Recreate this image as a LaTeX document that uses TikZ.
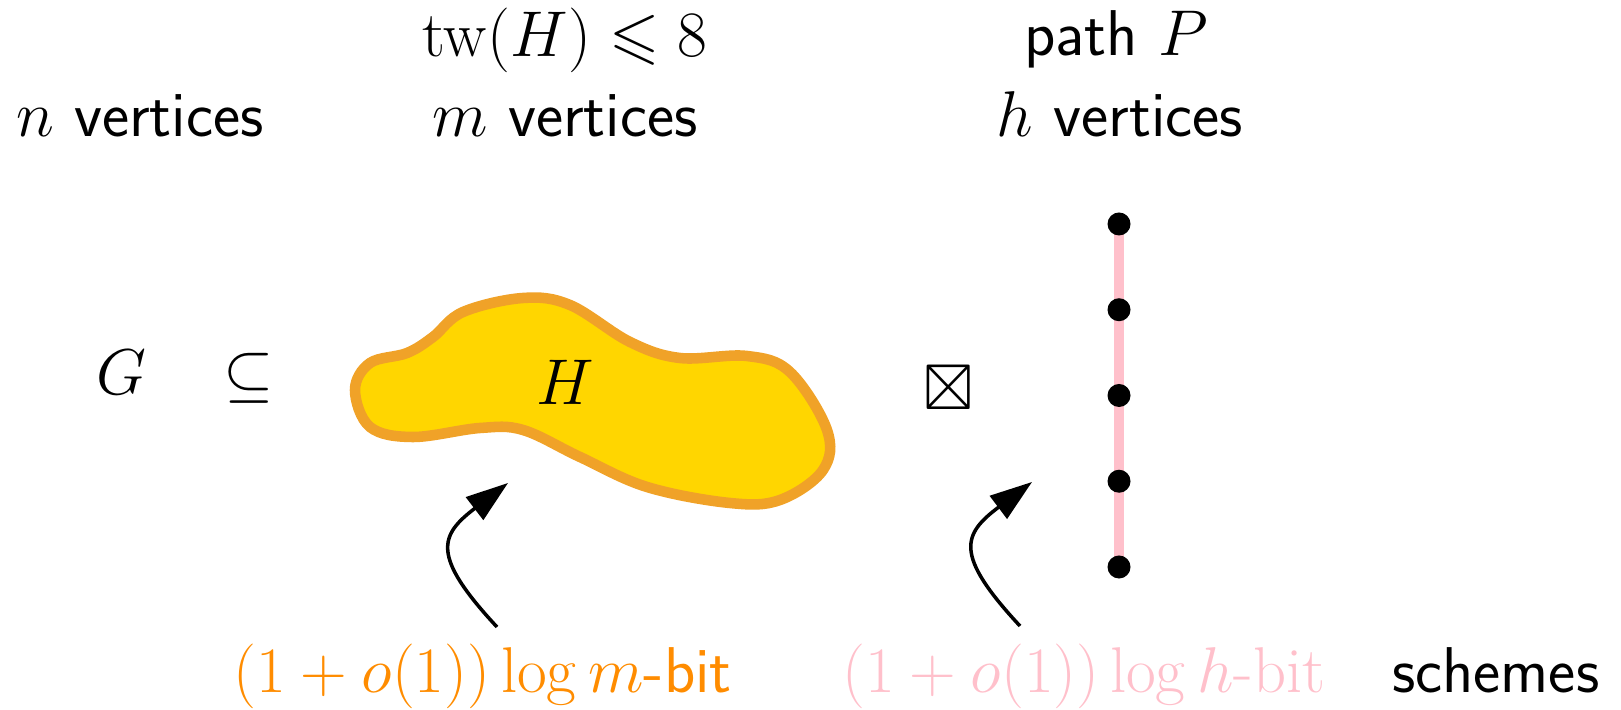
\RequirePackage{fix-cm}
\documentclass[tikz,border=0pt]{standalone}
\usepackage{amsmath,amssymb}
\usetikzlibrary{arrows.meta}
\definecolor{blobfill}{RGB}{255,214,0}
\definecolor{blobline}{RGB}{240,162,40}
\definecolor{myorange}{RGB}{255,140,0}
\definecolor{mypink}{RGB}{255,192,203}
\begin{document}
\begin{tikzpicture}[x=0.01cm,y=-0.01cm,
  lbl/.style={inner sep=0pt,anchor=base,font=\fontsize{18.4}{22}\selectfont\sffamily},
  dot/.style={circle,fill=black,inner sep=0pt,minimum size=0.23cm},
  curvearrow/.style={line width=1pt,-{Triangle[length=12pt,width=8pt]}}]
\useasboundingbox (0,0) rectangle (1621,710);
% top labels
\node[lbl] (nv) at (140,137) {$n$ vertices};
\node[lbl] (tw) at (565,57) {$\mathrm{tw}(H)\leqslant 8$};
\node[lbl] (mv) at (565,137) {$m$ vertices};
\node[lbl] (pp) at (1116,56) {path $P$};
\node[lbl] (hv) at (1120,137) {$h$ vertices};
% blob
\draw[line width=3pt,draw=blobline,fill=blobfill] plot[smooth cycle,tension=0.6] coordinates {
 (355,390) (370,363) (407,353) (433,337) (463,312) (523,298) (570,305)
 (630,342) (680,358) (747,356) (790,372) (827,430) (823,470) (780,500)
 (730,503) (647,487) (580,457) (523,430) (480,428) (413,437) (370,427)};
% middle row
\node[lbl] (G) at (121,395) {$G$};
\node[lbl] (sub) at (249,395) {$\subseteq$};
\node[lbl] (H) at (565,405) {$H$};
\node[lbl] (bt) at (949,410) {$\boxtimes$};
% path
\coordinate (c1) at (1119,224);
\coordinate (c2) at (1119,309.75);
\coordinate (c3) at (1119,395.5);
\coordinate (c4) at (1119,481.25);
\coordinate (c5) at (1119,567);
\draw[mypink,line width=2.8pt] (c1) -- (c5);
\node[dot] (p1) at (c1) {};
\node[dot] (p2) at (c2) {};
\node[dot] (p3) at (c3) {};
\node[dot] (p4) at (c4) {};
\node[dot] (p5) at (c5) {};
% arrows
\coordinate (a1s) at (497,627);
\coordinate (a1t) at (508,483);
\coordinate (a2s) at (1020,626);
\coordinate (a2t) at (1032,482);
\draw[curvearrow] (a1s) .. controls (430,555) and (440,535) .. (a1t);
\draw[curvearrow] (a2s) .. controls (953,554) and (963,534) .. (a2t);
% bottom labels
\node[lbl,anchor=base west,text=myorange] (ob) at (233,693) {$(1+o(1))\log m$-bit};
\node[lbl,anchor=base west,text=mypink] (pb) at (842,693) {$(1+o(1))\log h$\textrm{-bit}};
\node[lbl,anchor=base east] (sc) at (1600,693) {schemes};
\end{tikzpicture}
\end{document}
